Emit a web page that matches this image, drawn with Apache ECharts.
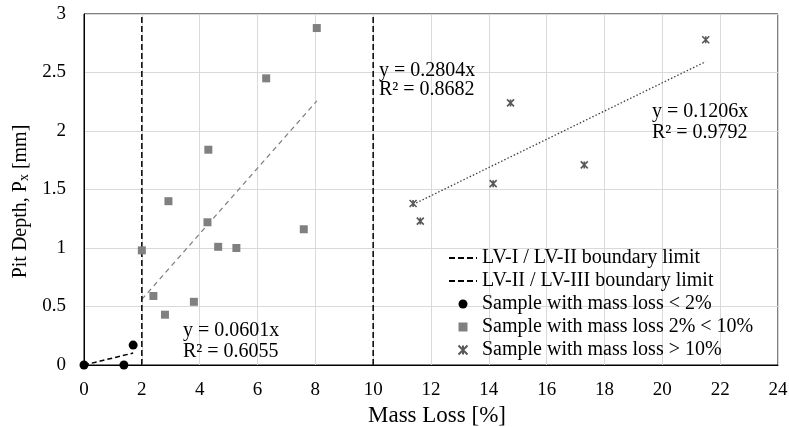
<!DOCTYPE html>
<html>
<head>
<meta charset="utf-8">
<script src="https://cdn.jsdelivr.net/npm/echarts@6/dist/echarts.min.js"></script>
<style>
html,body{margin:0;padding:0;background:#fff;}
#c{width:789px;height:427px;}
</style>
</head>
<body>
<div id="c"></div>
<script>
// ---- data ----
var xTicks = [0, 2, 4, 6, 8, 10, 12, 14, 16, 18, 20, 22, 24];
var yTicks = [0, 0.5, 1, 1.5, 2, 2.5, 3];
var seriesNames = [
  'LV-I / LV-II boundary limit',
  'LV-II / LV-III boundary limit',
  'Sample with mass loss < 2%',
  'Sample with mass loss 2% < 10%',
  'Sample with mass loss > 10%'
];
var boundary1 = [[2, 0], [2, 3]];
var boundary2 = [[10, 0], [10, 3]];
var lowLoss = [[0, 0], [1.38, 0], [1.7, 0.17]];
var midLoss = [
  [2.0, 0.98], [2.4, 0.59], [2.8, 0.43], [2.92, 1.40], [3.8, 0.54],
  [4.27, 1.22], [4.3, 1.84], [4.64, 1.01], [5.27, 1.00], [6.3, 2.45],
  [7.6, 1.16], [8.05, 2.88]
];
var highLoss = [
  [11.38, 1.38], [11.63, 1.23], [14.15, 1.55], [14.75, 2.24],
  [17.3, 1.71], [21.5, 2.78]
];
var trendLow = [[0, 0], [1.7, 0.102]];
var trendMid = [[2.0, 0.561], [8.05, 2.257]];
var trendHigh = [[11.38, 1.372], [21.5, 2.593]];
var eqLow = ['y = 0.0601x', 'R² = 0.6055'];
var eqMid = ['y = 0.2804x', 'R² = 0.8682'];
var eqHigh = ['y = 0.1206x', 'R² = 0.9792'];

var FONT = 'Liberation Serif';
var chart = echarts.init(document.getElementById('c'), null, {renderer: 'canvas'});
var starPath = 'path://M0,0L10,10M10,0L0,10M5,0L5,10';
var squarePath = 'path://M0,0L10,0L10,10L0,10Z';

var option = {
  animation: false,
  backgroundColor: '#fff',
  grid: {left: 84, right: 11, top: 14, bottom: 62, show: true, borderColor: '#000', borderWidth: 1,
         containLabel: false, outerBoundsMode: 'none'},
  xAxis: {
    type: 'value', min: xTicks[0], max: xTicks[xTicks.length - 1], interval: 2,
    axisLine: {show: true, lineStyle: {color: '#000', width: 1}},
    axisTick: {show: false},
    splitLine: {show: true, lineStyle: {color: '#d9d9d9', width: 1}},
    axisLabel: {color: '#000', fontFamily: FONT, fontSize: 19, margin: 16},
    name: 'Mass Loss [%]', nameLocation: 'middle', nameGap: 38,
    nameTextStyle: {color: '#000', fontFamily: FONT, fontSize: 23, padding: [0, 0, 0, 12]}
  },
  yAxis: {
    type: 'value', min: yTicks[0], max: yTicks[yTicks.length - 1], interval: 0.5,
    axisLine: {show: true, lineStyle: {color: '#000', width: 1}},
    axisTick: {show: false},
    splitLine: {show: true, lineStyle: {color: '#d9d9d9', width: 1}},
    axisLabel: {color: '#000', fontFamily: FONT, fontSize: 19, margin: 18},
    name: 'Pit Depth, P{sub|x} [mm]', nameLocation: 'middle', nameGap: 52, nameRotate: 90,
    nameTextStyle: {
      color: '#000', fontFamily: FONT, fontSize: 20, padding: [0, 24, 0, 0],
      rich: {sub: {fontFamily: FONT, fontSize: 14, color: '#000', verticalAlign: 'bottom', padding: [8, 0, 0, 0]}}
    }
  },
  legend: {
    data: [
      {name: seriesNames[0], itemStyle: {opacity: 0}},
      {name: seriesNames[1], itemStyle: {opacity: 0}},
      {name: seriesNames[2]},
      {name: seriesNames[3]},
      {name: seriesNames[4]}
    ],
    orient: 'vertical', left: 443, top: 243,
    itemWidth: 28, itemHeight: 9, itemGap: 3,
    textStyle: {color: '#000', fontFamily: FONT, fontSize: 20},
    selectedMode: false
  },
  series: [
    {name: seriesNames[0], type: 'line', data: boundary1, symbol: 'none', z: 3,
     itemStyle: {color: 'rgba(0,0,0,0)'},
     lineStyle: {color: '#000', width: 1.5, type: [6, 3]}},
    {name: seriesNames[1], type: 'line', data: boundary2, symbol: 'none', z: 3,
     itemStyle: {color: 'rgba(0,0,0,0)'},
     lineStyle: {color: '#000', width: 1.5, type: [6, 3]}},
    {name: 'trendLow', type: 'line', data: trendLow, symbol: 'none', z: 2,
     lineStyle: {color: '#000', width: 1.5, type: [5, 3]}},
    {name: 'trendMid', type: 'line', data: trendMid, symbol: 'none', z: 2,
     lineStyle: {color: '#7f7f7f', width: 1.3, type: [5, 4]}},
    {name: 'trendHigh', type: 'line', data: trendHigh, symbol: 'none', z: 2,
     lineStyle: {color: '#404040', width: 1.3, type: [1.5, 2]}},
    {name: seriesNames[2], type: 'scatter', data: lowLoss, symbol: 'circle', symbolSize: 9, z: 5,
     itemStyle: {color: '#000', opacity: 1}},
    {name: seriesNames[3], type: 'scatter', data: midLoss, symbol: squarePath, symbolSize: 8, z: 5,
     symbolKeepAspect: true,
     itemStyle: {color: '#808080', opacity: 1}},
    {name: seriesNames[4], type: 'scatter', data: highLoss, symbol: starPath, symbolSize: 7, z: 5,
     symbolKeepAspect: true,
     itemStyle: {color: 'none', borderColor: '#595959', borderWidth: 1.6, opacity: 1}}
  ],
  graphic: [
    {type: 'text', left: 183, top: 320, z: 10,
     style: {text: eqLow.join('\n'), font: '20px "Liberation Serif"', fill: '#000', lineHeight: 21}},
    {type: 'text', left: 379, top: 61, z: 10,
     style: {text: eqMid.join('\n'), font: '20px "Liberation Serif"', fill: '#000', lineHeight: 19}},
    {type: 'text', left: 652, top: 101, z: 10,
     style: {text: eqHigh.join('\n'), font: '20px "Liberation Serif"', fill: '#000', lineHeight: 21}}
  ]
};
chart.setOption(option);
</script>
</body>
</html>
